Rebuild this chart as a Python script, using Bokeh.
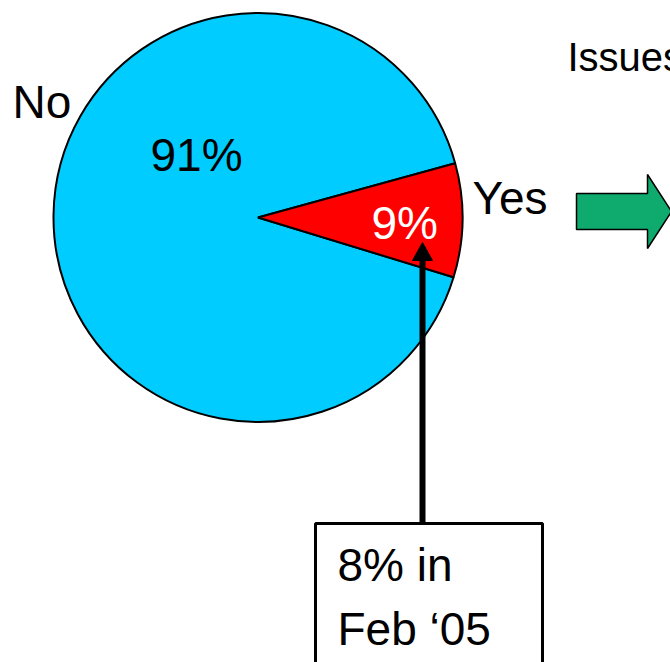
import math
from bokeh.plotting import figure
from bokeh.models import Range1d
from bokeh.core.properties import value
from bokeh.embed import file_html
from bokeh.resources import INLINE

# ---- data ----
labels = ["Yes", "No"]
percents = [9, 91]
pct_labels = ["9%", "91%"]
note_lines = ["8% in", "Feb \u201805"]
side_title = "Issues"

W, H = 670, 662
FONT = "Liberation Sans"

p = figure(width=W, height=H, output_backend="svg", toolbar_location=None,
           x_range=Range1d(0, W), y_range=Range1d(0, H),
           x_axis_location=None, y_axis_location=None,
           min_border=0, min_border_left=0, min_border_right=0,
           min_border_top=0, min_border_bottom=0)
p.outline_line_color = None
p.grid.visible = False
p.background_fill_color = "white"
p.border_fill_color = "white"

def Y(y):
    return H - y

# ---- pie ----
cx, cy, r = 257.5, 217, 204.5
colors = ["#FF0000", "#00CCFF"]
start = math.radians(-17.0)
total = sum(percents)
starts, ends = [], []
a = start
for v in percents:
    starts.append(a)
    a = a + v / total * 2 * math.pi
    ends.append(a)

# draw No first then Yes on top
for i in [1, 0]:
    p.wedge(x=cx, y=Y(cy), radius=r, start_angle=starts[i], end_angle=ends[i],
            fill_color=colors[i], line_color="black", line_width=2)

# ---- labels ----
def txt(x, y, t, size, color="black"):
    yy = y - 0.4 * size
    p.text(x=[x], y=[Y(yy)], text=[t], text_font=value(FONT),
           text_font_size=f"{size}px", text_color=color,
           text_align="left", text_baseline="alphabetic")

txt(12, 120, labels[1], 46)
txt(150, 173, pct_labels[1], 46)
txt(472, 216, labels[0], 46)
txt(371, 241, pct_labels[0], 46, "white")
txt(567, 72, side_title, 40)

# ---- green arrow ----
gx = [576, 647, 647, 671, 647, 647, 576]
gy = [193, 193, 174, 211, 248, 229, 229]
p.patch(x=gx, y=[Y(v) for v in gy], fill_color="#0EAA6E", line_color="black", line_width=1.5)

# ---- note box ----
p.patch(x=[315, 542, 542, 315], y=[Y(523), Y(523), Y(700), Y(700)],
        fill_color="white", line_color="black", line_width=3)
txt(337, 583, note_lines[0], 46)
txt(337, 647, note_lines[1], 46)

# ---- black arrow ----
p.segment(x0=[422], y0=[Y(523)], x1=[422], y1=[Y(256)], line_color="black", line_width=6)
p.patch(x=[412, 432, 422], y=[Y(260), Y(260), Y(242)], fill_color="black", line_color="black", line_width=1)

open("out.html", "w").write(file_html(p, INLINE))
